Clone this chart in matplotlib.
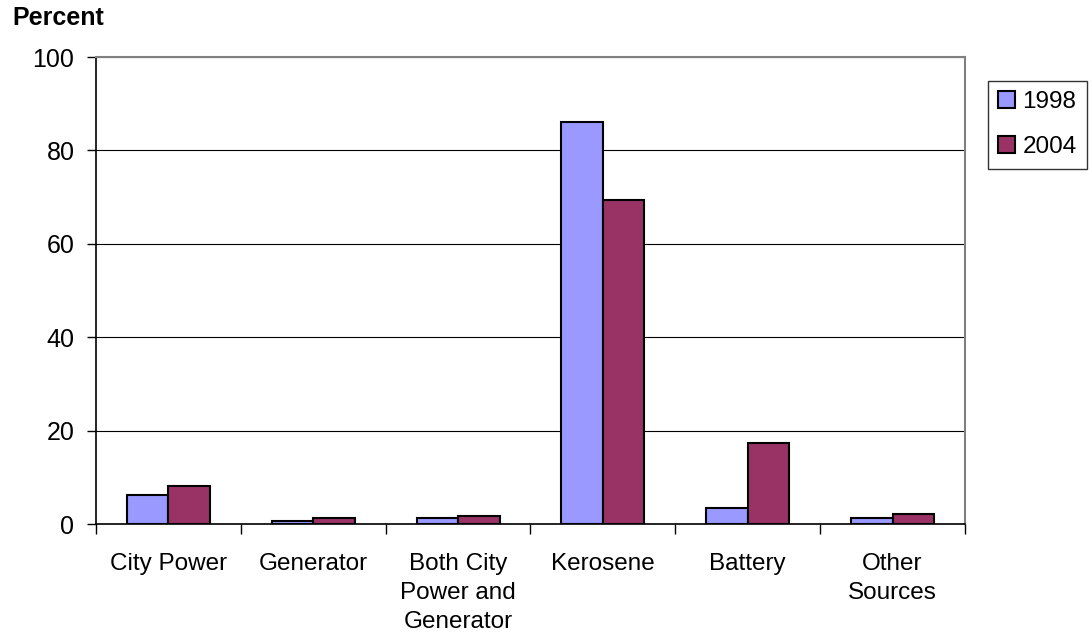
import numpy as np
import matplotlib
matplotlib.use('Agg')
from matplotlib import pyplot as plt

categories = ['City Power', 'Generator', 'Both City\nPower and\nGenerator',
              'Kerosene', 'Battery', 'Other\nSources']
vals_1998 = [6.2, 0.7, 1.2, 86.0, 3.4, 1.2]
vals_2004 = [8.1, 1.2, 1.7, 69.4, 17.4, 2.1]
series_names = ['1998', '2004']

plt.rcParams['font.family'] = ['Liberation Sans', 'DejaVu Sans']

fig = plt.figure(figsize=(10.92, 6.41), dpi=100)
ax = fig.add_axes([0.0879, 0.1825, 0.7958, 0.7285])

x = np.arange(len(categories))
w = 0.287
b1 = ax.bar(x - w / 2, vals_1998, w, color='#9999FF', edgecolor='black', linewidth=1.5, zorder=3)
b2 = ax.bar(x + w / 2, vals_2004, w, color='#993366', edgecolor='black', linewidth=1.5, zorder=3)

ax.set_xlim(-0.5, len(categories) - 0.5)
ax.set_ylim(0, 100)
ax.set_yticks([0, 20, 40, 60, 80, 100])
ax.tick_params(axis='y', labelsize=18, direction='out', length=6.5, width=1, pad=9)
ax.yaxis.grid(True, color='black', linewidth=0.8, zorder=0)

# category labels at centres, tick marks between groups
ax.set_xticks(x)
ax.set_xticklabels(categories, fontsize=17.5, linespacing=1.4)
ax.tick_params(axis='x', which='major', length=0, pad=21)
ax.set_xticks(np.arange(len(categories) + 1) - 0.5, minor=True)
ax.tick_params(axis='x', which='minor', direction='out', length=7, width=1)

for s in ['left', 'bottom']:
    ax.spines[s].set_color('black')
    ax.spines[s].set_linewidth(1.2)
for s in ['top', 'right']:
    ax.spines[s].set_color('#808080')
    ax.spines[s].set_linewidth(1.5)
ax.spines['bottom'].set_zorder(4)

fig.text(12 / 1092, 1 - 18 / 641, 'Percent', fontsize=18, fontweight='bold', va='center', ha='left')

leg = fig.legend([b1, b2], series_names, loc='upper left',
                 bbox_to_anchor=(988 / 1092, 1 - 81 / 641), fontsize=17.5,
                 frameon=True, fancybox=False, handlelength=0.7, handleheight=0.7,
                 handletextpad=0.3, borderpad=0.42, labelspacing=0.95, borderaxespad=0)
leg.get_frame().set_edgecolor('black')
leg.get_frame().set_linewidth(1.0)

fig.savefig('out.png', dpi=100)
